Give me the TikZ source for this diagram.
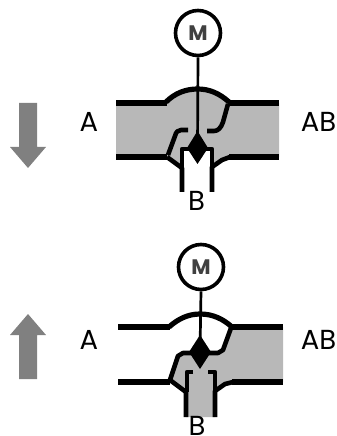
\documentclass[tikz,border=0pt]{standalone}
\usepackage{fontspec}
\setmainfont{Poppins}
\tikzset{
  wall/.style={line width=6bp,line join=round},
  thin wall/.style={line width=4.6bp,line join=round},
  bump/.style={line width=5.2bp,line join=round},
  stem/.style={line width=2.7bp},
  flow/.style={fill=black!50,draw=none},
  motor/.style={circle,draw,line width=3.6bp,minimum size=45bp,inner sep=0pt,font=\bfseries\fontsize{21bp}{21bp}\selectfont,text=black!75},
  lab/.style={inner sep=0pt,anchor=base,font=\fontsize{27.5bp}{27.5bp}\selectfont,text=black}
}
\begin{document}
\begin{tikzpicture}[x=1bp,y=-1bp]
\path[use as bounding box] (0,0) rectangle (336,436);
\clip (0,0) rectangle (336,436);
\definecolor{pipegrey}{gray}{0.72}
% arrows
\fill[flow] (19,103)--(37,103)--(37,147)--(46,147)--(28,168)--(10,147)--(19,147)--cycle;
\fill[flow] (19,379)--(37,379)--(37,335)--(46,335)--(28,314)--(10,335)--(19,335)--cycle;
% top valve
\fill[pipegrey] (116,103)--(168,103) .. controls (176,94) and (186,89) .. (197.5,89) .. controls (209,89) and (219,94) .. (227,103)--(279,103)--(279,157)--(229,157)--(212,167)--(212,192)--(182,192)--(182,167)--(168,157)--(116,157)--cycle;
\fill[white] (182,149)--(212,149)--(212,192)--(182,192)--cycle;
\node[motor] (m1) at (198,33) {M};
\coordinate (d1) at (197.5,147);
\draw[stem] (m1.south) -- (d1);
\draw[bump] (166,102) .. controls (175,93) and (186,89) .. (197.5,89) .. controls (209,89) and (219,93) .. (229,102);
\draw[wall] (116,103)--(167,103);
\draw[wall] (228,103)--(279,103);
\draw[wall] (116,157)--(167,157);
\draw[wall] (229,157)--(279,157);
\draw[thin wall] (167,157)--(182,168)--(182,192);
\draw[thin wall] (212,192)--(212,167)--(222,160)--(230,157);
\draw[thin wall] (168,155)--(175,136) .. controls (176,132) and (178,130) .. (181,130)--(188,130);
\draw[thin wall] (228,104) -- (223,122) .. controls (221,128) and (218,131) .. (214,131)--(207,131);
\draw[thin wall] (182,168)--(182,149)--(212,149)--(212,168);
\fill (197.5,131)--(208,148)--(197.5,164)--(187,148)--cycle;
\node[lab] (b1) at (196.5,211) {B};
\node[lab] (a1) at (89,132) {A};
\node[lab] (ab1) at (318.5,132) {AB};
% bottom valve
\fill[pipegrey] (231,327)--(283,327)--(283,382)--(232,382)--(215,391)--(215,417)--(186,417)--(186,392)--(170,380)--(178,355)--(218,353)--(223,350)--cycle;
\node[motor] (m2) at (201,267) {M};
\coordinate (d2) at (200,352);
\draw[stem] (m2.south) -- (d2);
\draw[bump] (169,327) .. controls (178,319) and (188,314) .. (200,314) .. controls (213,314) and (223,319) .. (232,327);
\draw[wall] (118,327)--(170,327);
\draw[wall] (231,327)--(283,327);
\draw[wall] (118,382)--(170,382);
\draw[wall] (232,382)--(283,382);
\draw[thin wall] (170,380)--(186,392)--(186,417);
\draw[thin wall] (215,417)--(215,391)--(225,384)--(233,382);
\draw[thin wall] (231,328)--(223,350)--(218,353)--(183,353)--(178,356)--(170,380);
\draw[thin wall] (193,372)--(187,372)--(187,392);
\draw[thin wall] (208,372)--(215,372)--(215,392);
\fill (200,335)--(211,352)--(200,369)--(189,352)--cycle;
\node[lab] (b2) at (197,435.5) {B};
\node[lab] (a2) at (89,349) {A};
\node[lab] (ab2) at (318.5,349) {AB};
\end{tikzpicture}
\end{document}
